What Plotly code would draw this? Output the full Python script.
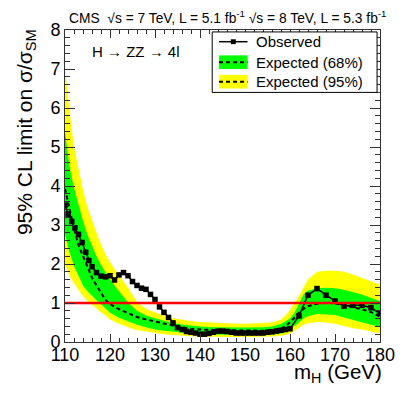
import plotly.graph_objects as go

# observed 95% CL upper limit on sigma/sigma_SM
obs_mass = [110, 110.7, 111.5, 112.2, 113, 113.8, 114.6, 115.3, 116, 117, 118, 119,
            120, 121, 122, 123, 124, 125, 126, 127, 128, 129, 130, 131, 132, 133,
            134, 135, 136, 137, 138, 139, 140, 141, 142, 143, 144, 145, 146, 147,
            148, 149, 150, 151, 152, 153, 154, 155, 156, 157, 158, 159, 160, 162,
            164, 166, 168, 170, 172, 174, 176, 178, 180]
obs_limit = [3.51, 3.28, 3.09, 2.93, 2.76, 2.55, 2.30, 2.09, 1.93, 1.78, 1.69, 1.67,
             1.70, 1.59, 1.72, 1.78, 1.70, 1.55, 1.45, 1.38, 1.35, 1.22, 1.09, 0.90,
             0.76, 0.63, 0.49, 0.37, 0.32, 0.27, 0.25, 0.23, 0.20, 0.20, 0.22, 0.25,
             0.28, 0.28, 0.27, 0.25, 0.23, 0.23, 0.23, 0.23, 0.23, 0.23, 0.23, 0.25,
             0.26, 0.28, 0.30, 0.32, 0.34, 0.67, 1.20, 1.37, 1.20, 1.05, 0.92, 0.94,
             0.94, 0.88, 0.73]

# expected limit: median and 68% / 95% bands
exp_mass = [110, 111, 112, 113, 114, 115, 116, 117, 118, 119, 120, 122, 124, 126,
            128, 130, 132, 134, 136, 138, 140, 143, 146, 150, 154, 156, 158, 159,
            160, 161, 162, 163, 164, 166, 168, 170, 172, 174, 176, 178, 180]
exp_median = [3.93, 3.40, 2.90, 2.48, 2.20, 1.92, 1.65, 1.45, 1.25, 1.08, 0.97, 0.84,
              0.74, 0.64, 0.58, 0.53, 0.47, 0.42, 0.37, 0.34, 0.32, 0.31, 0.30, 0.29,
              0.29, 0.30, 0.35, 0.40, 0.50, 0.62, 0.75, 0.85, 0.92, 0.98, 1.01, 0.99,
              0.94, 0.89, 0.84, 0.77, 0.65]
exp_68_lo = [2.75, 2.30, 1.95, 1.68, 1.45, 1.30, 1.18, 1.07, 0.97, 0.86, 0.75, 0.62,
             0.52, 0.44, 0.38, 0.32, 0.29, 0.27, 0.24, 0.22, 0.20, 0.19, 0.18, 0.18,
             0.18, 0.19, 0.22, 0.25, 0.32, 0.40, 0.50, 0.60, 0.66, 0.72, 0.71, 0.69,
             0.63, 0.56, 0.50, 0.44, 0.38]
exp_68_hi = [5.40, 4.50, 3.95, 3.50, 3.10, 2.75, 2.45, 2.20, 1.98, 1.78, 1.60, 1.30,
             1.02, 0.80, 0.68, 0.61, 0.54, 0.49, 0.45, 0.42, 0.40, 0.38, 0.37, 0.37,
             0.38, 0.40, 0.46, 0.52, 0.60, 0.75, 1.00, 1.22, 1.32, 1.38, 1.39, 1.38,
             1.34, 1.28, 1.22, 1.13, 1.05]
exp_95_lo = [2.00, 1.70, 1.50, 1.32, 1.17, 1.05, 0.95, 0.85, 0.76, 0.68, 0.58, 0.47,
             0.38, 0.30, 0.27, 0.23, 0.20, 0.18, 0.16, 0.15, 0.14, 0.13, 0.13, 0.13,
             0.13, 0.14, 0.16, 0.18, 0.22, 0.28, 0.36, 0.44, 0.48, 0.51, 0.50, 0.47,
             0.41, 0.35, 0.32, 0.27, 0.22]
exp_95_hi = [7.05, 5.90, 5.00, 4.40, 3.90, 3.45, 3.10, 2.80, 2.50, 2.25, 2.05, 1.70,
             1.40, 1.02, 0.85, 0.75, 0.67, 0.61, 0.57, 0.54, 0.51, 0.49, 0.48, 0.47,
             0.48, 0.50, 0.58, 0.68, 0.82, 1.00, 1.18, 1.40, 1.60, 1.80, 1.83, 1.83,
             1.80, 1.73, 1.65, 1.56, 1.47]

sm_mass = [110, 180]
sm_level = [1, 1]

FONT = "Liberation Sans, Arial, Helvetica, sans-serif"
# the page body has an 8px margin, so the figure sits at (8, 8) in the window
OFF = 8
PLOT_X0, PLOT_X1, PLOT_Y0, PLOT_Y1 = 65, 386, 22, 342   # plot area in window pixels
W = 407 - OFF
H = 394 - 2 * OFF


def px(x):
    return (x - PLOT_X0) / (PLOT_X1 - PLOT_X0)


def py(y):
    return (PLOT_Y1 - y) / (PLOT_Y1 - PLOT_Y0)


fig = go.Figure()

# 95% band
fig.add_trace(go.Scatter(x=exp_mass, y=exp_95_lo, mode="lines", line=dict(width=0),
                         hoverinfo="skip", showlegend=False))
fig.add_trace(go.Scatter(x=exp_mass, y=exp_95_hi, mode="lines", line=dict(width=0),
                         fill="tonexty", fillcolor="#ffff00", showlegend=False))
# 68% band
fig.add_trace(go.Scatter(x=exp_mass, y=exp_68_lo, mode="lines", line=dict(width=0),
                         hoverinfo="skip", showlegend=False))
fig.add_trace(go.Scatter(x=exp_mass, y=exp_68_hi, mode="lines", line=dict(width=0),
                         fill="tonexty", fillcolor="#00ff00", showlegend=False))
# expected median
fig.add_trace(go.Scatter(x=exp_mass, y=exp_median, mode="lines",
                         line=dict(color="black", width=2, dash="4px,3px"),
                         showlegend=False))
# observed
fig.add_trace(go.Scatter(x=obs_mass, y=obs_limit, mode="lines+markers",
                         line=dict(color="black", width=1.5),
                         marker=dict(symbol="square", size=5.5, color="black"),
                         showlegend=False))
# SM line
fig.add_trace(go.Scatter(x=sm_mass, y=sm_level, mode="lines",
                         line=dict(color="#ff0000", width=2.5), showlegend=False))

axis_common = dict(
    showline=True, linecolor="#333", linewidth=1, mirror="ticks",
    ticks="inside", tickcolor="#333", showgrid=False, zeroline=False,
    tickfont=dict(family=FONT, size=18, color="black"),
)
fig.update_xaxes(range=[110, 180], dtick=10, ticklen=8, ticklabelstandoff=-4,
                 minor=dict(dtick=2, ticklen=4, ticks="inside", tickcolor="#333"),
                 **axis_common)
fig.update_yaxes(range=[0, 8], dtick=1, ticklen=10,
                 minor=dict(dtick=0.2, ticklen=5, ticks="inside", tickcolor="#333"),
                 **axis_common)

shapes = []
annotations = []

# legend drawn by hand
shapes.append(dict(type="rect", xref="paper", yref="paper",
                   x0=px(215), x1=px(383), y0=py(86), y1=py(24),
                   line=dict(color="black", width=1), fillcolor="white"))
shapes.append(dict(type="line", xref="paper", yref="paper",
                   x0=px(222), x1=px(251), y0=py(34), y1=py(34),
                   line=dict(color="black", width=1.5)))
shapes.append(dict(type="rect", xref="paper", yref="paper",
                   x0=px(234), x1=px(239), y0=py(36.5), y1=py(31.5),
                   line=dict(width=0), fillcolor="black"))
for ytop, ybot, col in [(48, 62, "#00ff00"), (68, 82, "#ffff00")]:
    shapes.append(dict(type="rect", xref="paper", yref="paper",
                       x0=px(222), x1=px(251), y0=py(ybot), y1=py(ytop),
                       line=dict(width=0), fillcolor=col))
    shapes.append(dict(type="line", xref="paper", yref="paper",
                       x0=px(222), x1=px(251), y0=py((ytop + ybot) / 2),
                       y1=py((ytop + ybot) / 2),
                       line=dict(color="black", width=2, dash="4px,3px")))
for ytxt, txt in [(34, "Observed"), (55, "Expected (68%)"), (75, "Expected (95%)")]:
    annotations.append(dict(text=txt, xref="paper", yref="paper", x=px(258), y=py(ytxt),
                            xanchor="left", yanchor="middle", showarrow=False,
                            font=dict(family=FONT, size=15, color="black")))

# header and labels
annotations.append(dict(
    text="CMS  √s = 7 TeV, L = 5.1 fb<sup>-1</sup> √s = 8 TeV, L = 5.3 fb<sup>-1</sup>",
    xref="paper", yref="paper", x=px(67), y=py(20), xanchor="left", yanchor="bottom",
    showarrow=False, font=dict(family=FONT, size=13.8, color="black")))
annotations.append(dict(text="H → ZZ → 4l", xref="paper", yref="paper",
                        x=px(90), y=py(44), xanchor="left", yanchor="middle",
                        showarrow=False, font=dict(family=FONT, size=15, color="black")))
annotations.append(dict(text="95% CL limit on σ/σ<sub>SM</sub>", xref="paper", yref="paper",
                        x=px(10), y=py(19), xanchor="left", yanchor="top", textangle=-90,
                        showarrow=False, font=dict(family=FONT, size=21, color="black")))
annotations.append(dict(text="m<sub>H</sub> (GeV)", xref="paper", yref="paper",
                        x=px(390), y=py(374), xanchor="right", yanchor="middle",
                        showarrow=False, font=dict(family=FONT, size=20.5, color="black")))

fig.update_layout(
    width=W, height=H,
    margin=dict(l=PLOT_X0 - OFF, r=W - (PLOT_X1 - OFF), t=PLOT_Y0 - OFF,
                b=H - (PLOT_Y1 - OFF)),
    paper_bgcolor="white", plot_bgcolor="white",
    showlegend=False,
    shapes=shapes, annotations=annotations,
)

fig.write_html("out.html")
